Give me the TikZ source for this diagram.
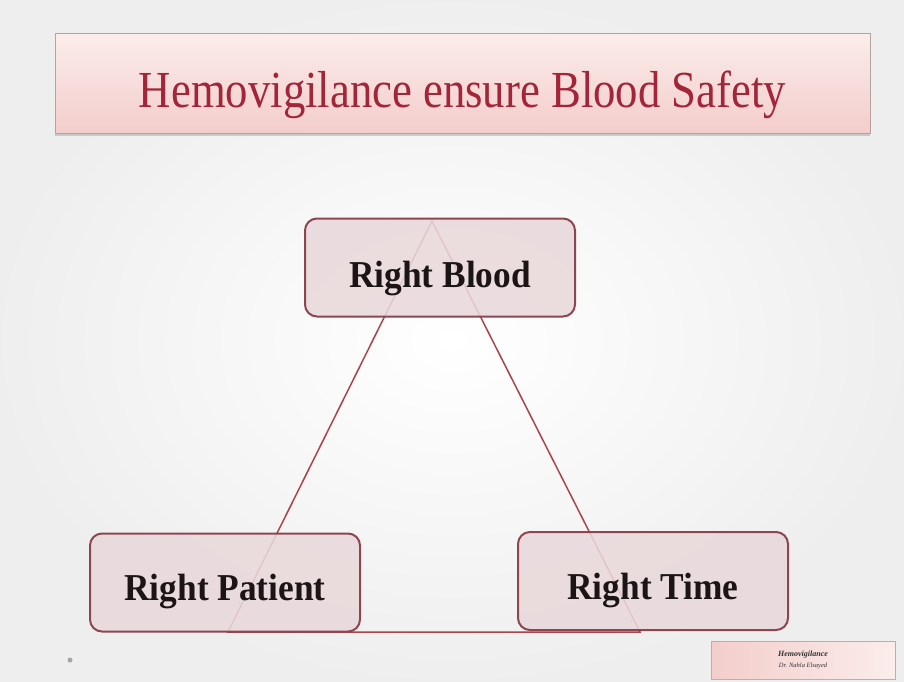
\documentclass[tikz,border=0pt]{standalone}
\usepackage{fontspec}
\setmainfont{Liberation Serif}
\newfontfamily\titlefont[FakeStretch=0.86]{Liberation Serif}
\newfontfamily\boxfont[FakeStretch=0.93]{Liberation Serif}
\usetikzlibrary{positioning,shadows}

\definecolor{titlered}{HTML}{A3253A}
\definecolor{titletop}{HTML}{FBEDEB}
\definecolor{titlebot}{HTML}{F3CDCB}
\definecolor{boxfill}{HTML}{E9D9DB}
\definecolor{boxedge}{HTML}{8C4650}
\definecolor{triline}{HTML}{A9434D}
\definecolor{boxtext}{HTML}{1B1516}

\pgfdeclarelayer{back}
\pgfdeclarelayer{lines}
\pgfsetlayers{back,lines,main}

\begin{document}
\begin{tikzpicture}[x=1pt,y=-1pt,
  titlebox/.style={rectangle, draw=gray!55!titlebot, line width=1pt,
    top color=titletop, bottom color=titlebot, minimum width=815pt, minimum height=100pt,
    drop shadow={shadow xshift=0pt, shadow yshift=-3pt, opacity=0.35},
    text height=54pt, text depth=6pt,
    text=titlered, font=\titlefont\fontsize{52}{58}\selectfont},
  rightbox/.style={rectangle, rounded corners=12pt, draw=boxedge, line width=2pt,
    fill=boxfill, fill opacity=0.88, text opacity=1, text=boxtext,
    minimum width=270pt, minimum height=98pt, text height=40pt, text depth=4pt,
    font=\boxfont\bfseries\fontsize{38}{44}\selectfont},
  footbox/.style={rectangle, draw=gray!60, line width=0.6pt,
    left color=titlebot, right color=titletop, minimum width=184pt, minimum height=38pt,
    align=center, text=gray!40!black, inner sep=1pt}]
  \useasboundingbox (0,0) rectangle (904,681);
  \begin{pgfonlayer}{back}
    \fill[inner color=white, outer color=gray!13] (0,0) rectangle (904,681);
  \end{pgfonlayer}

  % heading
  \node[titlebox] (title) at (462.5,83) {Hemovigilance ensure Blood Safety};

  % the three corners
  \node[rightbox, text height=44pt] (blood) at (440,267.5) {Right Blood};
  \node[rightbox] (patient) at (225,582.5) {Right Patient};
  \node[rightbox] (time) at (653,581) {Right Time};

  % triangle behind the boxes
  \coordinate (apex) at (432,221);
  \coordinate (footL) at (228,632);
  \coordinate (footR) at (640,632);
  \begin{pgfonlayer}{lines}
    \draw[triline, line width=1.5pt] (apex) -- (footL) -- (footR) -- cycle;
  \end{pgfonlayer}

  % footer
  \node[footbox] (foot) at (803,660) {{\bfseries\itshape\fontsize{8}{9}\selectfont Hemovigilance}\\[-1pt]
    {\itshape\fontsize{6.5}{7}\selectfont Dr. Nahla Elsayed}};
  \fill[gray!70] (70,660) circle (2.5pt);
\end{tikzpicture}
\end{document}
